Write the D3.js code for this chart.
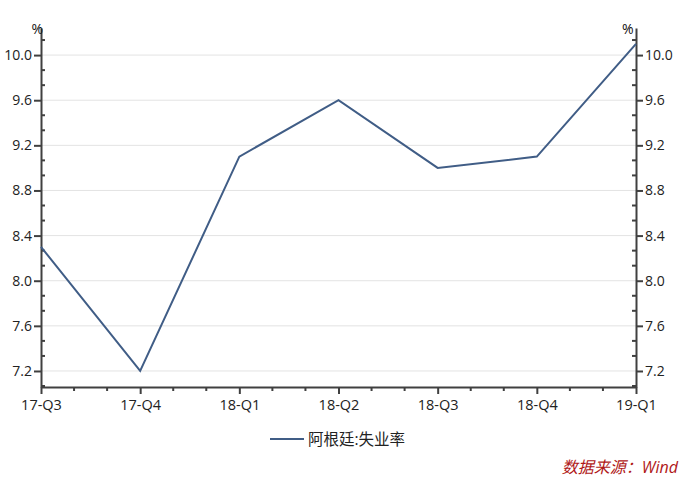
<!DOCTYPE html>
<html><head><meta charset="utf-8">
<script src="https://cdn.jsdelivr.net/npm/d3@7"></script>
<style>
body{margin:0;background:#fff;}
text{font-family:"Open Sans","Noto Sans CJK SC",sans-serif;}
</style></head><body>
<svg id="c" width="688" height="477"></svg>
<script>
const categories = ["17-Q3","17-Q4","18-Q1","18-Q2","18-Q3","18-Q4","19-Q1"];
const unemployment = [8.3, 7.2, 9.1, 9.6, 9.0, 9.1, 10.1];
const yTicks = [7.2, 7.6, 8.0, 8.4, 8.8, 9.2, 9.6, 10.0];
const seriesName = "阿根廷:失业率";
const sourceText = "数据来源：Wind";

const svg = d3.select("#c");
const L = 41, R = 636, T = 28, B = 387;
const x = d3.scalePoint().domain(categories).range([L, R]);
const y = d3.scaleLinear().domain([7.058, 10.24]).range([B, T]);
const axisColor = "#404040";

// gridlines
svg.append("g").selectAll("line").data(yTicks).join("line")
  .attr("x1", L).attr("x2", R).attr("y1", d => y(d)).attr("y2", d => y(d))
  .attr("stroke", "#e3e3e3").attr("stroke-width", 1);

// minor y ticks
const minorY = d3.range(0, 24).map(i => 7.2 - 0.4/3 + i*0.4/3).filter(v => v > y.domain()[0] && v < y.domain()[1] && Math.abs(((v-7.2)/0.4) - Math.round((v-7.2)/0.4)) > 0.01);

function yAxis(side) {
  const ax = side === "left" ? d3.axisLeft(y) : d3.axisRight(y);
  ax.tickValues(yTicks).tickFormat(d3.format(".1f")).tickSize(7).tickPadding(2).tickSizeOuter(0);
  const g = svg.append("g").attr("transform", `translate(${side==="left"?L:R},0)`).call(ax);
  g.select(".domain").attr("stroke", axisColor).attr("stroke-width", 2);
  g.selectAll(".tick line").attr("stroke", axisColor).attr("stroke-width", 2);
  g.selectAll(".tick text").attr("fill", "#222").style("font-size", "14px");
  const dir = side === "left" ? 1 : -1;
  g.append("g").selectAll("line").data(minorY).join("line")
    .attr("x1", 0).attr("x2", 4*dir).attr("y1", d => y(d)).attr("y2", d => y(d))
    .attr("stroke", axisColor).attr("stroke-width", 2);
  g.append("text").attr("x", side==="left"?2:-14).attr("y", T+6)
    .attr("fill", "#111").style("font-size", "14px").text("%");
}
yAxis("left");
yAxis("right");

// x axis
const xa = d3.axisBottom(x).tickSize(7).tickPadding(6).tickSizeOuter(0);
const gx = svg.append("g").attr("transform", `translate(0,${B})`).call(xa);
gx.select(".domain").attr("stroke", axisColor).attr("stroke-width", 2);
gx.selectAll(".tick line").attr("stroke", axisColor).attr("stroke-width", 2);
gx.selectAll(".tick text").attr("fill", "#222").style("font-size", "14.5px");
const step = x.step();
const minorX = [];
categories.slice(0, -1).forEach(c => { minorX.push(x(c) + step/3, x(c) + 2*step/3); });
gx.append("g").selectAll("line").data(minorX).join("line")
  .attr("x1", d => d).attr("x2", d => d).attr("y1", 0).attr("y2", 4)
  .attr("stroke", axisColor).attr("stroke-width", 2);

// line
const line = d3.line().x((d, i) => x(categories[i])).y(d => y(d));
svg.append("path").datum(unemployment).attr("d", line)
  .attr("fill", "none").attr("stroke", "#405d86").attr("stroke-width", 2);

// legend
const lg = svg.append("g").attr("transform", "translate(270,439)");
lg.append("line").attr("x1", 0).attr("x2", 34).attr("y1", 0).attr("y2", 0)
  .attr("stroke", "#405d86").attr("stroke-width", 2);
lg.append("text").attr("x", 38).attr("y", 5.5).attr("fill", "#222")
  .style("font-size", "15.5px").text(seriesName);

// source
svg.append("text").attr("x", 678).attr("y", 473).attr("text-anchor", "end")
  .attr("fill", "#b01818").style("font-size", "16px").style("font-style", "italic")
  .text(sourceText);
</script></body></html>
